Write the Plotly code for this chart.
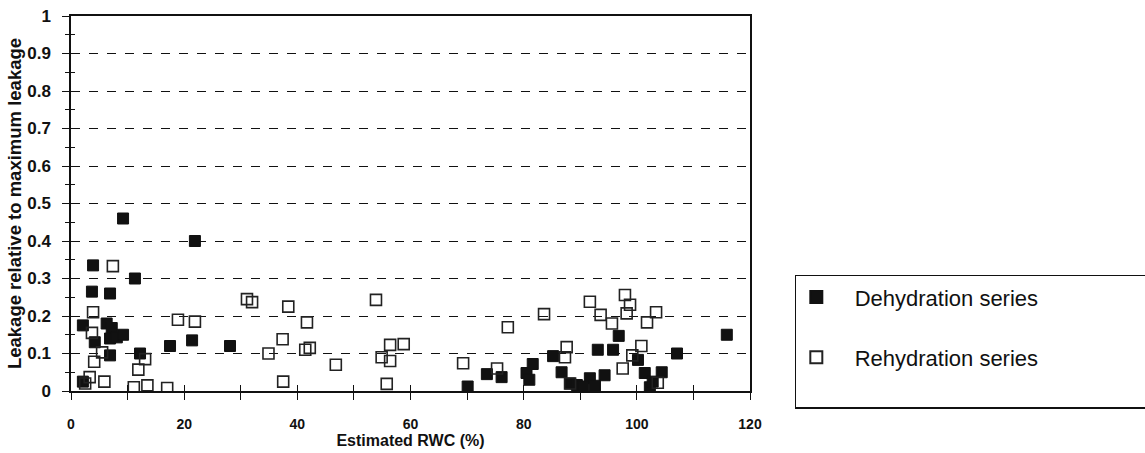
import plotly.graph_objects as go

# Dehydration series (filled squares)
dehyd_x = [9.2, 21.9, 3.9, 11.3, 3.7, 6.9, 2.1, 6.3, 7.2, 4.2, 6.9, 8.1, 9.2, 6.9, 12.2,
           17.5, 21.4, 2.1, 28.1,
           70.1, 73.5, 76.1, 80.5, 81.6, 81.0, 85.2, 86.7, 88.2,
           96.8, 93.1, 95.8, 100.2, 107.1, 115.9, 94.3, 91.7, 89.4, 90.5, 92.6,
           101.4, 102.3, 102.8, 104.4]
dehyd_y = [0.46, 0.40, 0.335, 0.30, 0.265, 0.26, 0.175, 0.18, 0.168, 0.13, 0.14, 0.143, 0.15, 0.095, 0.10,
           0.12, 0.135, 0.025, 0.12,
           0.012, 0.045, 0.037, 0.048, 0.072, 0.03, 0.093, 0.05, 0.02,
           0.147, 0.11, 0.11, 0.083, 0.10, 0.15, 0.042, 0.034, 0.016, 0.012, 0.014,
           0.048, 0.01, 0.025, 0.05]

# Rehydration series (open squares)
rehyd_x = [7.4, 3.9, 18.9, 21.9, 3.7, 5.5, 4.1, 13.1, 11.9, 3.3, 5.9, 11.1, 13.5, 17.0, 2.5,
           31.1, 32.0, 38.4, 41.7, 37.4, 34.9, 41.4, 42.2, 46.8, 37.5,
           53.9, 56.4, 58.8, 54.9, 56.4, 55.8,
           69.3, 77.2, 83.6, 75.3, 87.6, 88.2, 87.3,
           91.7, 93.6, 95.6, 97.9, 98.8, 98.2, 101.8, 103.4, 100.8, 99.2, 97.5, 103.7]
rehyd_y = [0.333, 0.21, 0.19, 0.185, 0.155, 0.103, 0.078, 0.085, 0.057, 0.037, 0.025, 0.01, 0.015, 0.008, 0.02,
           0.245, 0.237, 0.225, 0.183, 0.138, 0.10, 0.11, 0.115, 0.07, 0.025,
           0.243, 0.123, 0.125, 0.09, 0.08, 0.019,
           0.074, 0.17, 0.205, 0.06, 0.117, 0.02, 0.09,
           0.238, 0.203, 0.18, 0.256, 0.23, 0.207, 0.183, 0.21, 0.12, 0.095, 0.06, 0.022]

series_names = ["Dehydration series", "Rehydration series"]

font_family = "Liberation Sans, Arial, sans-serif"
NB = "\u00a0"

fig = go.Figure()
fig.add_trace(go.Scatter(
    x=dehyd_x, y=dehyd_y, mode="markers",
    name=NB * 3 + series_names[0] + "<br>" + NB,
    marker=dict(symbol="square", size=11, color="#111111",
                line=dict(color="#111111", width=1))))
fig.add_trace(go.Scatter(
    x=rehyd_x, y=rehyd_y, mode="markers",
    name=NB * 3 + series_names[1] + "<br>" + NB,
    marker=dict(symbol="square-open", size=11, color="#222222",
                line=dict(color="#222222", width=1.6))))

# overlay axes to produce ticks crossing the axis lines
fig.add_trace(go.Scatter(x=[None], y=[None], xaxis="x2", yaxis="y2",
                         showlegend=False, hoverinfo="skip"))

fig.update_layout(
    width=1145, height=453,
    margin=dict(l=71, r=395, t=16, b=62, autoexpand=False),
    paper_bgcolor="white", plot_bgcolor="white",
    font=dict(family=font_family, color="#111111"),
    xaxis=dict(range=[0, 120], dtick=20, tick0=0, automargin=False,
               showgrid=False, zeroline=False,
               showline=True, linecolor="#111111", linewidth=1.5, mirror=True,
               ticks="outside", ticklen=7, tickwidth=1.2, tickcolor="#111111",
               minor=dict(dtick=10, ticks="outside", ticklen=7, tickwidth=1.2, tickcolor="#111111"),
               ticklabelstandoff=12,
               tickfont=dict(family=font_family, size=14, color="#111111", weight="bold"),
               title=dict(text="<b>Estimated RWC (%)</b>", font=dict(family=font_family, size=16),
                          standoff=3)),
    yaxis=dict(range=[0, 1], dtick=0.1, tick0=0, automargin=False,
               showgrid=True, gridcolor="#111111", gridwidth=1.3, griddash="dash",
               zeroline=False,
               showline=True, linecolor="#111111", linewidth=1.5, mirror=True,
               ticks="outside", ticklen=7, tickwidth=1.2, tickcolor="#111111",
               minor=dict(dtick=0.05, ticks="outside", ticklen=4, tickwidth=1, tickcolor="#111111"),
               ticklabelstandoff=8,
               tickfont=dict(family=font_family, size=17, color="#111111", weight="bold"),
               tickformat="~g",
               title=dict(text="<b>Leakage relative to maximum leakage</b>",
                          font=dict(family=font_family, size=18.5), standoff=1)),
    xaxis2=dict(range=[0, 120], overlaying="x", anchor="y2", side="bottom", automargin=False,
                dtick=10, tick0=0, showgrid=False, zeroline=False, showline=False,
                ticks="inside", ticklen=6, tickwidth=1.2, tickcolor="#111111",
                showticklabels=False),
    yaxis2=dict(range=[0, 1], overlaying="y", anchor="x2", side="left", automargin=False,
                dtick=0.1, tick0=0, showgrid=False, zeroline=False, showline=False,
                ticks="inside", ticklen=7, tickwidth=1.2, tickcolor="#111111",
                minor=dict(dtick=0.05, ticks="inside", ticklen=4, tickwidth=1, tickcolor="#111111"),
                showticklabels=False),
    legend=dict(x=1.066, y=0.31, xanchor="left", yanchor="top",
                orientation="h", entrywidth=325, entrywidthmode="pixels",
                valign="top",
                bordercolor="#111111", borderwidth=1.5, bgcolor="white",
                font=dict(family=font_family, size=22, color="#111111"),
                itemsizing="constant"),
    showlegend=True,
)

fig.write_html("out.html")
